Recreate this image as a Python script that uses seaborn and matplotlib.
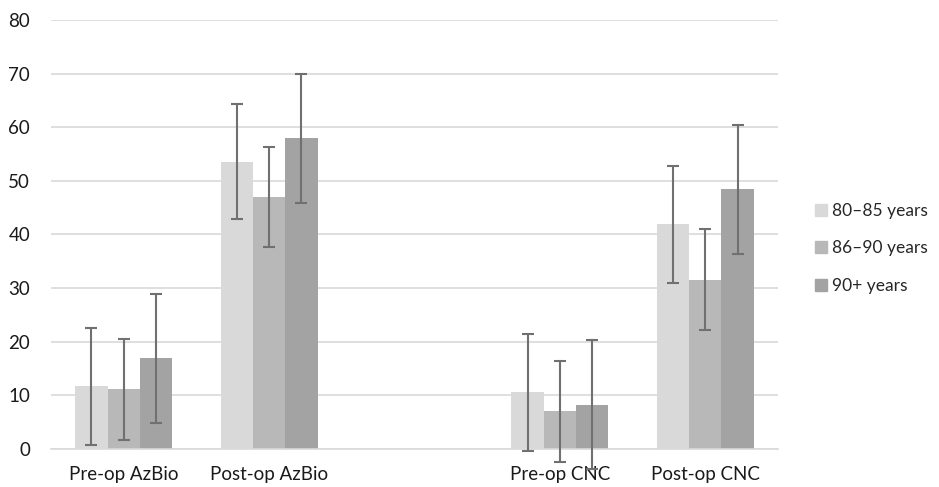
import pandas as pd
import numpy as np
import seaborn as sns
import matplotlib.pyplot as plt

# ------------------------------- DATOS -------------------------------
categorias = ['Pre-op AzBio', 'Post-op AzBio', 'Pre-op CNC', 'Post-op CNC']
orden = ['Pre-op AzBio', 'Post-op AzBio', ' ', 'Pre-op CNC', 'Post-op CNC']
grupos = ['80–85 years', '86–90 years', '90+ years']

media_80_85 = [11.7, 53.6, 10.6, 41.9]
media_86_90 = [11.1, 47.0, 7.0, 31.6]
media_90 = [16.9, 57.9, 8.3, 48.4]

de_80_85 = [10.9, 10.8, 10.9, 10.9]
de_86_90 = [9.4, 9.4, 9.4, 9.4]
de_90 = [12.0, 12.0, 12.0, 12.0]

colores = ['#D9D9D9', '#B8B8B8', '#A3A3A3']

df = pd.DataFrame({
    'prueba': categorias * 3,
    'grupo': np.repeat(grupos, len(categorias)),
    'media': media_80_85 + media_86_90 + media_90,
    'de': de_80_85 + de_86_90 + de_90,
})

# ------------------------------- GRAFICO -----------------------------
sns.set_style('white')
plt.rcParams['font.family'] = ['Lato', 'DejaVu Sans']

fig = plt.figure(figsize=(9.39, 4.87), dpi=100)
ax = fig.add_axes([0.0543, 0.078, 0.7742, 0.881])

sns.barplot(data=df, x='prueba', y='media', hue='grupo', order=orden,
            hue_order=grupos, palette=colores, width=0.667, errorbar=None,
            saturation=1, linewidth=0, ax=ax, legend=False)

# barras de error, emparejadas por posicion
pos = {c: orden.index(c) for c in categorias}
for cont, g in zip(ax.containers, grupos):
    sub = df[df['grupo'] == g].set_index('prueba')
    for bar in cont:
        xc = bar.get_x() + bar.get_width() / 2
        cat = [c for c in categorias if abs(pos[c] - xc) < 0.5][0]
        ax.errorbar(xc, sub.loc[cat, 'media'], yerr=sub.loc[cat, 'de'],
                    fmt='none', ecolor='#707070', elinewidth=1.5,
                    capsize=4.5, capthick=1.5, clip_on=False, zorder=4)

ax.set_ylim(0, 80)
ax.set_xlim(-0.5, 4.5)
ax.set_yticks(range(0, 81, 10))
ax.yaxis.grid(True, color='#D9D9D9', linewidth=1.2)
ax.set_axisbelow(True)
sns.despine(ax=ax, left=True, bottom=True)
ax.spines['bottom'].set_visible(True)
ax.spines['bottom'].set_color('#D9D9D9')
ax.spines['bottom'].set_linewidth(1.2)
ax.tick_params(axis='both', length=0, labelsize=13.5, colors='#1a1a1a')
ax.tick_params(axis='y', pad=15)
ax.tick_params(axis='x', pad=12)
ax.set_xlabel('')
ax.set_ylabel('')

handles = [plt.Rectangle((0, 0), 1, 1, color=c) for c in colores]
fig.legend(handles, grupos, loc='center left', bbox_to_anchor=(0.868, 0.49),
           frameon=False, fontsize=12.5, handlelength=0.7, handleheight=0.7,
           handletextpad=0.25, labelspacing=1.25, borderaxespad=0,
           borderpad=0)

fig.savefig('out.png', dpi=100)
